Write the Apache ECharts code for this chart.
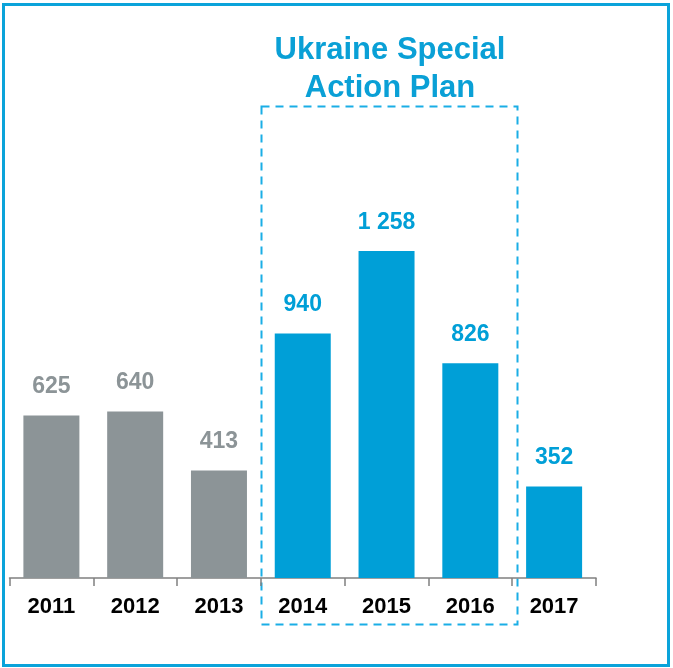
<!DOCTYPE html>
<html>
<head>
<meta charset="utf-8">
<style>
  html, body { margin: 0; padding: 0; background: #fff; }
  #chart { width: 673px; height: 668px; }
</style>
<script src="https://cdn.jsdelivr.net/npm/echarts@6/dist/echarts.min.js"></script>
</head>
<body>
<div id="chart"></div>
<script>
var years = ["2011", "2012", "2013", "2014", "2015", "2016", "2017"];
var values = [625, 640, 413, 940, 1258, 826, 352];
var planYears = ["2014", "2015", "2016", "2017"];

var GRAY = "#8c9497", BLUE = "#009fd7";

function fmt(v) {
    return String(v).replace(/\B(?=(\d{3})+(?!\d))/g, " ");
}

var chart = echarts.init(document.getElementById("chart"));
chart.setOption({
    animation: false,
    grid: { left: 9.5, right: 77, top: 162, bottom: 90 },
    xAxis: {
        type: "category",
        data: years,
        axisLine: { lineStyle: { color: "#808080", width: 1.5 } },
        axisTick: { show: true, length: 8, lineStyle: { color: "#808080", width: 1.5 } },
        axisLabel: {
            interval: 0,
            color: "#000", fontFamily: "Liberation Sans",
            fontWeight: "bold", fontSize: 22, margin: 18
        }
    },
    yAxis: { type: "value", min: 0, max: 1600, show: false, splitLine: { show: false } },
    series: [{
        type: "bar",
        barWidth: 56,
        data: values.map(function (v, i) {
            var c = planYears.indexOf(years[i]) >= 0 ? BLUE : GRAY;
            return {
                value: v,
                itemStyle: { color: c },
                label: { color: c }
            };
        }),
        label: {
            show: true, position: "top", distance: 17,
            fontFamily: "Liberation Sans", fontWeight: "bold", fontSize: 23,
            formatter: function (p) { return fmt(p.value); }
        }
    }],
    graphic: [
        {
            type: "rect", silent: true,
            shape: { x: 3.5, y: 4.5, width: 665, height: 661 },
            style: { fill: null, stroke: "#0aa3da", lineWidth: 3 }
        },
        {
            type: "rect", silent: true,
            shape: { x: 261.5, y: 106.5, width: 256, height: 518 },
            style: { fill: null, stroke: "#1aaee6", lineWidth: 2, lineDash: [8, 6] }
        },
        {
            type: "text", silent: true,
            style: {
                x: 390, y: 50, text: "Ukraine Special\nAction Plan",
                fill: "#0aa0d6", font: "bold 31px 'Liberation Sans'",
                align: "center", verticalAlign: "middle", lineHeight: 38
            },
            y: 19
        }
    ]
});
</script>
</body>
</html>
